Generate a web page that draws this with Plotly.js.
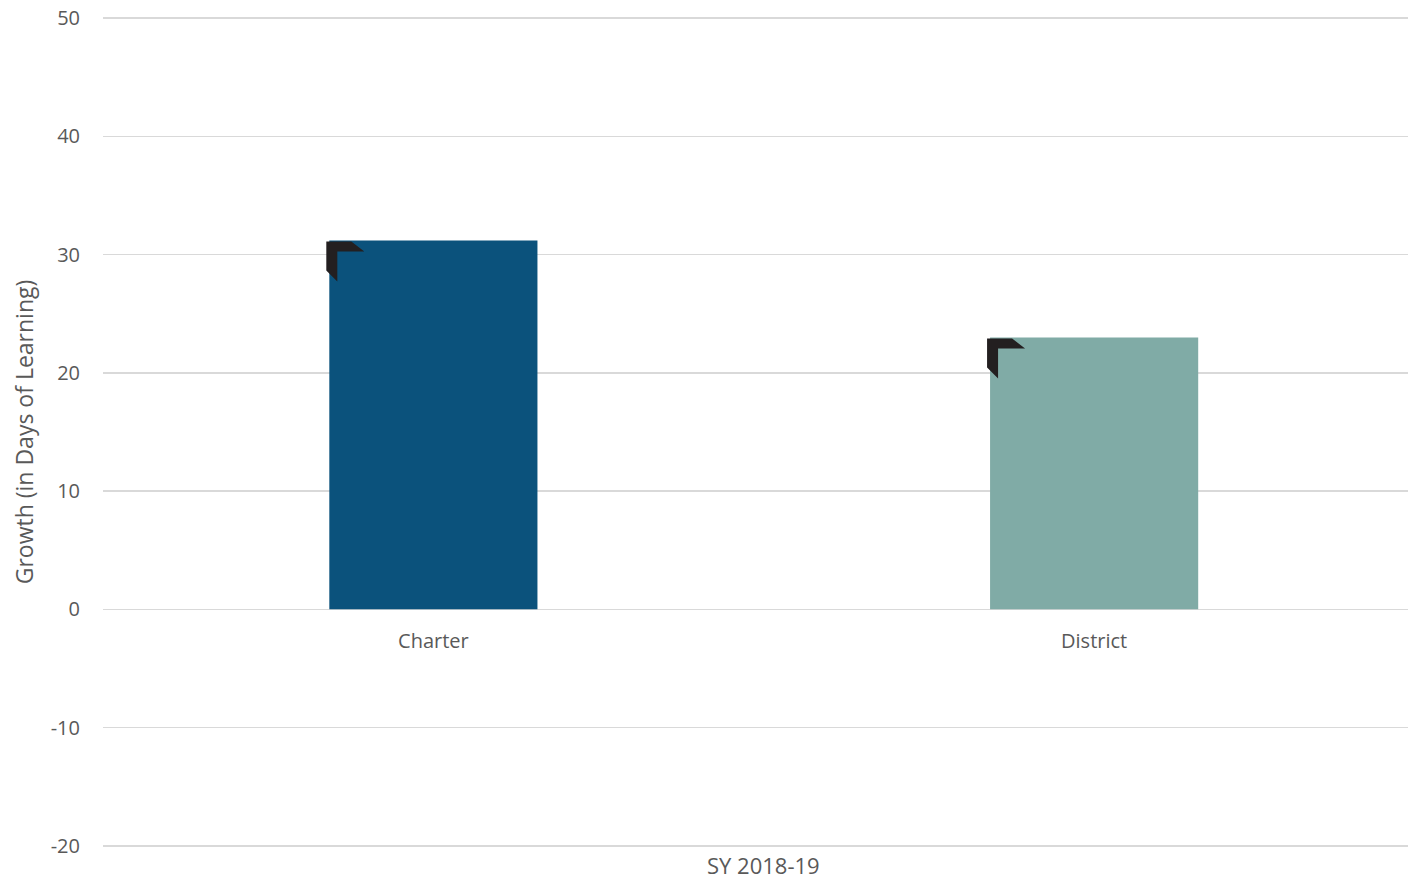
<!DOCTYPE html>
<html>
<head>
<meta charset="utf-8">
<script src="https://cdn.plot.ly/plotly-3.0.1.min.js"></script>
<style>html,body{margin:0;padding:0;background:#fff;}#chart{width:1408px;height:880px;}</style>
</head>
<body>
<div id="chart"></div>
<script>
const categories = ["Charter", "District"];
const growthValues = [31.2, 23.0];
const barColors = ["#0b527c", "#80aba6"];
const yTicks = [-20, -10, 0, 10, 20, 30, 40, 50];
const yTickLabels = ["-20", "-10", "0", "10", "20", "30", "40", "50"];
const groupLabel = "SY 2018-19";
const yTitle = "Growth (in Days of Learning)";

const barWidth = 0.315;
const font = "Open Sans, sans-serif";
const grey = "#595959";

const trace = {
  type: "bar",
  x: categories,
  y: growthValues,
  width: barWidth,
  marker: {color: barColors},
  hoverinfo: "x+y"
};

// corner bracket decoration at each bar's top-left corner
const cornerPath = "M -3 -1 L 22 -1 L 35 -11 L 8 -11 L 8 -41 L -3 -30 Z";
const shapes = growthValues.map((v, i) => ({
  type: "path",
  xref: "x", yref: "y",
  xsizemode: "pixel", ysizemode: "pixel",
  xanchor: i - barWidth / 2,
  yanchor: v,
  path: cornerPath,
  fillcolor: "#231f20",
  line: {width: 0}
}));

const pad = 0.1;
const pxPerUnit = 828 / 70;

const layout = {
  width: 1408, height: 880,
  margin: {l: 103, r: 0, t: 18 - pad * pxPerUnit, b: 34 - pad * pxPerUnit},
  paper_bgcolor: "#ffffff",
  plot_bgcolor: "#ffffff",
  showlegend: false,
  font: {family: font, color: grey, size: 20},
  xaxis: {
    type: "category",
    range: [-0.5, 1.475],
    anchor: "free",
    position: (20 + pad) / (70 + 2 * pad),
    showgrid: false,
    showline: false,
    zeroline: false,
    ticks: "",
    ticklabelstandoff: 18,
    tickfont: {family: font, size: 20, color: grey},
    fixedrange: true
  },
  yaxis: {
    range: [-20 - pad, 50 + pad],
    tickvals: yTicks,
    ticktext: yTickLabels,
    showgrid: true,
    gridcolor: "#d9d9d9",
    gridwidth: 1.5,
    zeroline: true,
    zerolinecolor: "#d9d9d9",
    zerolinewidth: 1.5,
    showline: false,
    ticks: "",
    ticklabelstandoff: 22,
    tickfont: {family: font, size: 20, color: grey},
    title: {text: yTitle, font: {family: font, size: 23, color: grey}, standoff: 10},
    fixedrange: true
  },
  shapes: shapes,
  annotations: [{
    text: groupLabel,
    xref: "x", yref: "paper",
    x: 0.5, y: -0.022,
    xanchor: "center", yanchor: "middle",
    showarrow: false,
    font: {family: font, size: 22, color: grey}
  }]
};

Plotly.newPlot("chart", [trace], layout, {displayModeBar: false, staticPlot: true});
</script>
</body>
</html>
